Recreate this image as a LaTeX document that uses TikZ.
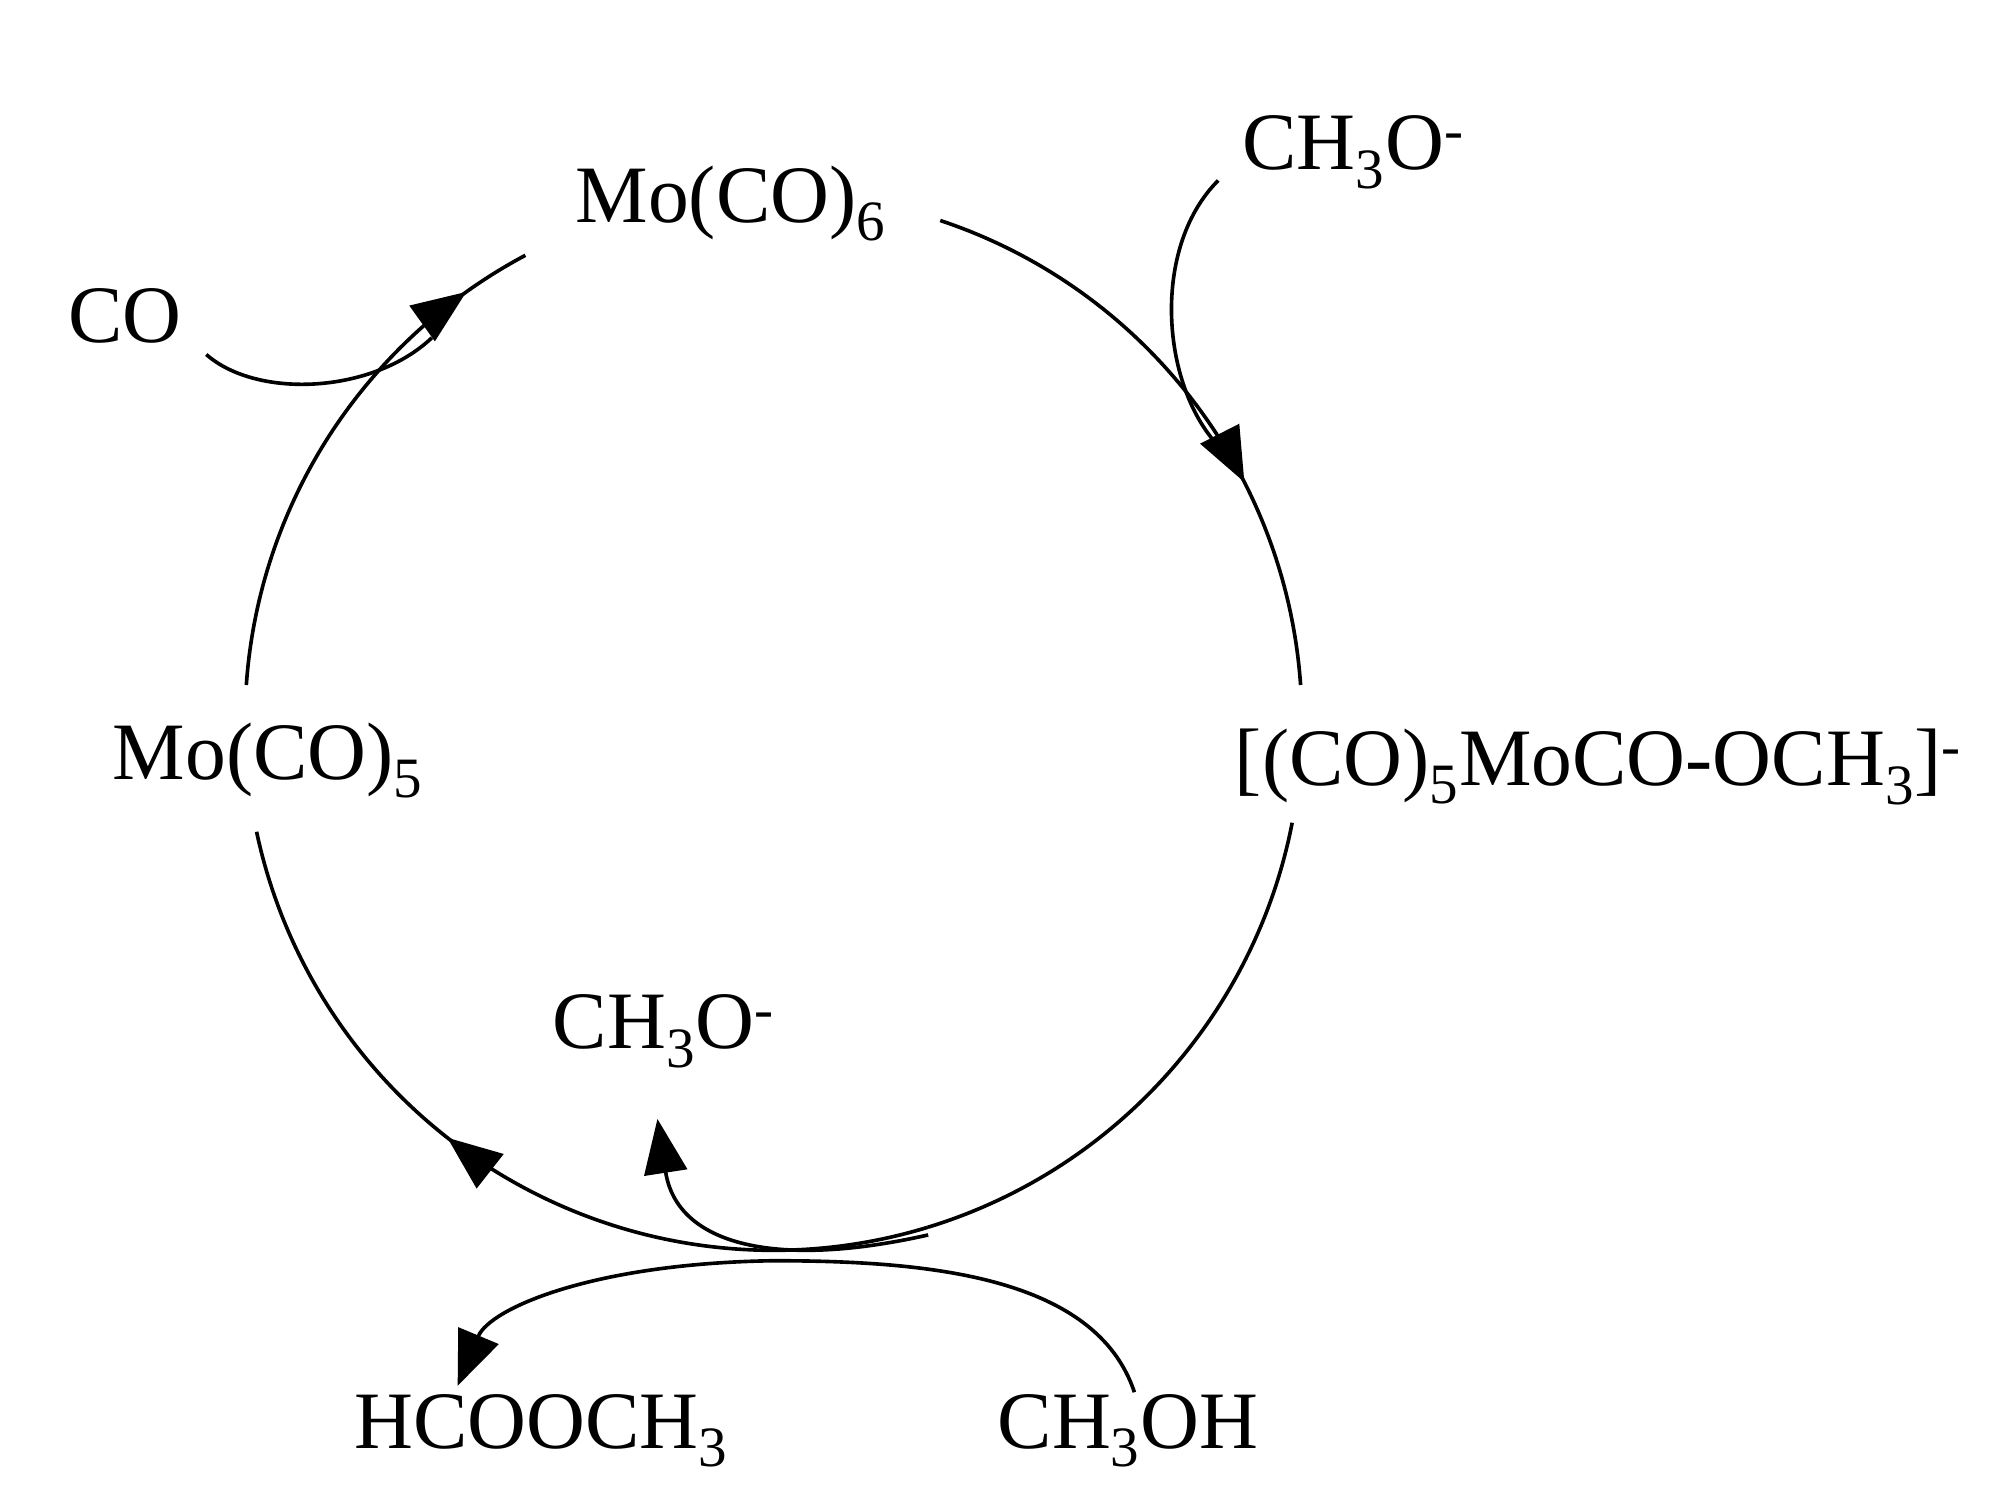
\documentclass[tikz,border=0pt]{standalone}
\usepackage{fontspec}
\setmainfont{Liberation Serif}
\usetikzlibrary{arrows.meta,decorations.markings}
\tikzset{
  lbl/.style={font=\fontsize{36}{42}\selectfont, inner sep=0pt},
  ln/.style={line width=1.6pt},
  tip/.style={-{Triangle[length=24pt,width=19pt]}},
  mk/.style={postaction={decorate},decoration={markings,mark=at position #1 with {\arrow{Triangle[length=24pt,width=19pt]}}}}
}
\begin{document}
\begin{tikzpicture}[x=0.02cm,y=0.02cm]
\useasboundingbox (0,0) rectangle (1560,-1165);
\coordinate (c) at (600,-560);
\node[lbl] (mo6) at (567,-158) {Mo(CO)\textsubscript{6}};
\node[lbl] (meo1) at (1050,-118) {CH\textsubscript{3}O\textsuperscript{-}};
\node[lbl] (co) at (97,-245) {CO};
\node[lbl] (mo5) at (208,-590) {Mo(CO)\textsubscript{5}};
\node[lbl] (cplx) at (1240,-595) {[(CO)\textsubscript{5}MoCO-OCH\textsubscript{3}]\textsuperscript{-}};
\node[lbl] (meo2) at (515,-800) {CH\textsubscript{3}O\textsuperscript{-}};
\node[lbl] (hc) at (420,-1110) {HCOOCH\textsubscript{3}};
\node[lbl] (meoh) at (875,-1110) {CH\textsubscript{3}OH};
% cycle arcs
\draw[ln,mk=0.66] (c) ++(71.6:8.2cm) arc[start angle=71.6,end angle=4,radius=8.2cm];
\draw[ln] (c) ++(-11:8.2cm) arc[start angle=-11,end angle=-73,radius=8.2cm];
\draw[ln,mk=0.58] (c) ++(-73:8.2cm) arc[start angle=-73,end angle=-168,radius=8.2cm];
\draw[ln,mk=0.87] (c) ++(176:8.2cm) arc[start angle=176,end angle=118,radius=8.2cm];
% side arrows
\coordinate (j1) at (940,-340);
\draw[ln] (945,-140) .. controls (895,-190) and (900,-290) .. (j1);
\coordinate (j2) at (335,-262);
\draw[ln] (160,-275) .. controls (200,-310) and (290,-305) .. (j2);
\draw[ln,tip] (880,-1080) .. controls (850,-990) and (720,-978) .. (600,-978) .. controls (460,-980) and (380,-1015) .. (355,-1075);
\draw[ln,tip] (720,-958) .. controls (600,-985) and (525,-965) .. (510,-868);
\end{tikzpicture}
\end{document}
